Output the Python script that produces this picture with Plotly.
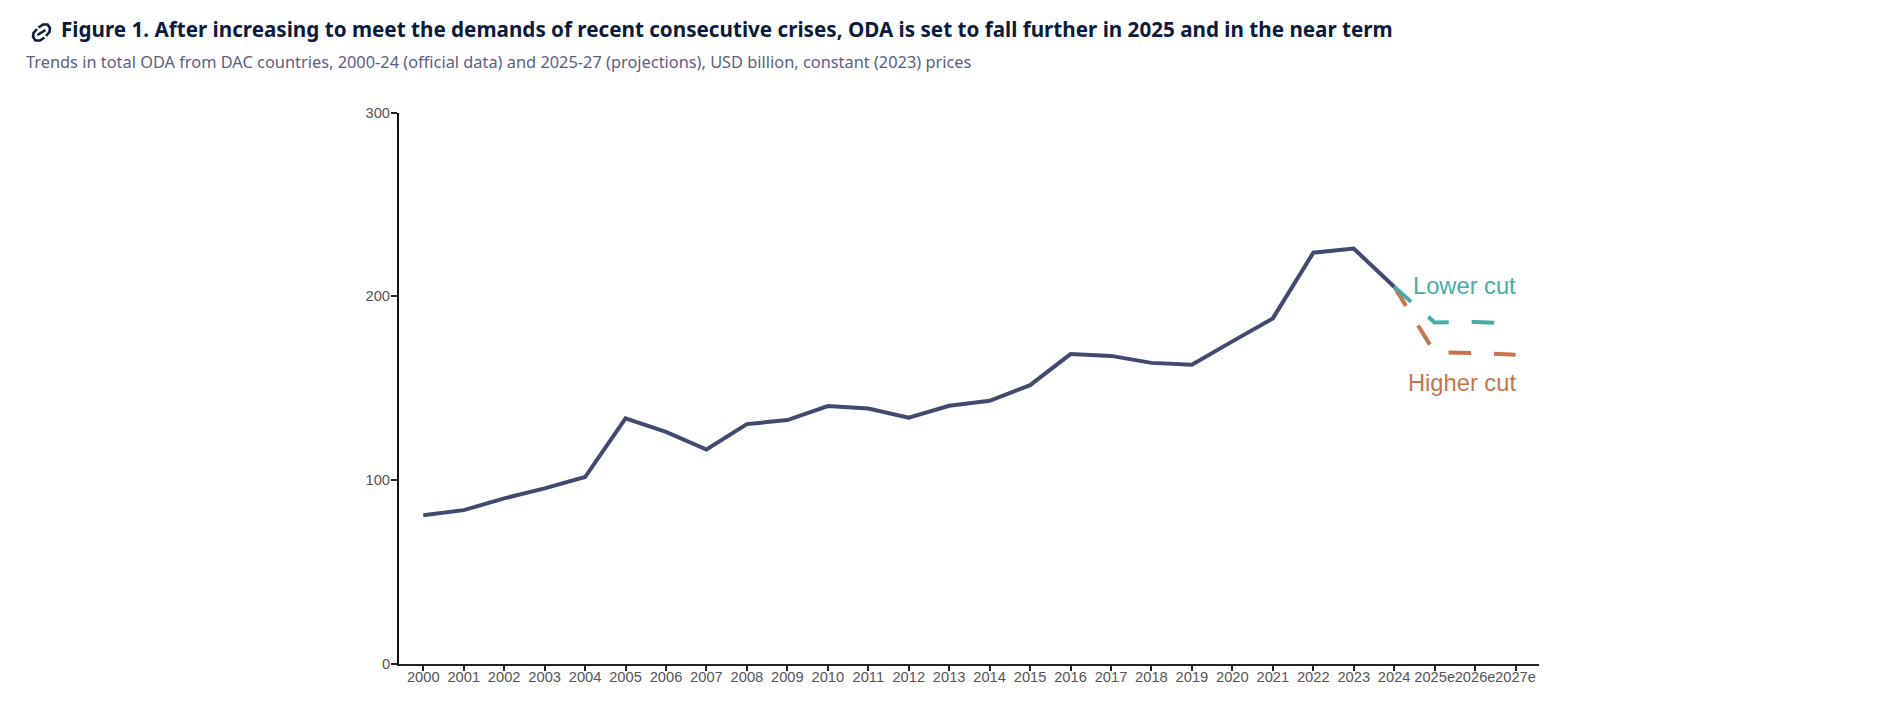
import plotly.graph_objects as go

W, H = 1903, 721
years = [str(y) for y in range(2000, 2025)] + ["2025e", "2026e", "2027e"]
oda = [80.9, 83.7, 90.1, 95.5, 101.7, 133.6, 126.3, 116.7, 130.5, 132.7, 140.3, 139.0, 134.0,
       140.5, 143.2, 151.7, 168.6, 167.6, 163.8, 162.8, 175.5, 188.0, 223.7, 226.0, 205.2]
proj_years = ["2024", "2025e", "2026e", "2027e"]
lower_cut = [205.2, 185.8, 186.0, 185.2]
higher_cut = [205.2, 169.5, 169.2, 168.2]
y_ticks = [0, 100, 200, 300]
NAVY, TEAL, ORANGE = "#434a6e", "#48aca4", "#c8744a"


def px(x):
    return x / W


def py(y):
    return 1 - y / H


fig = go.Figure()
fig.add_trace(go.Scatter(x=proj_years, y=higher_cut, mode="lines",
                         line=dict(color=ORANGE, width=4, dash="22.5px,23px"), hoverinfo="skip"))
fig.add_trace(go.Scatter(x=proj_years, y=lower_cut, mode="lines",
                         line=dict(color=TEAL, width=4, dash="22.5px,23px"), hoverinfo="skip"))
fig.add_trace(go.Scatter(x=years[:25], y=oda, mode="lines",
                         line=dict(color=NAVY, width=4), hoverinfo="skip"))


def note(x, y, text, size, color, family, anchor="left", bold=False):
    fig.add_annotation(xref="paper", yref="paper", x=px(x), y=py(y), text=f"<b>{text}</b>" if bold else text,
                       showarrow=False, xanchor=anchor, yanchor="middle",
                       font=dict(size=size, color=color, family=family), borderpad=0, borderwidth=0)


note(61, 29.5, "Figure 1. After increasing to meet the demands of recent consecutive crises, ODA is set to fall further in 2025 and in the near term",
     20.65, "#0c1a3e", "Noto Sans", bold=True)
note(26, 62, "Trends in total ODA from DAC countries, 2000-24 (official data) and 2025-27 (projections), USD billion, constant (2023) prices",
     16.36, "#5c6080", "Noto Sans")
note(1516, 285.5, "Lower cut", 23.7, TEAL, "Liberation Sans", anchor="right")
note(1516, 382.5, "Higher cut", 23.7, ORANGE, "Liberation Sans", anchor="right")


def link_path(pts):
    return "M " + " L ".join(f"{px(a):.5f},{py(b):.5f}" for a, b in pts)


for seg in ([(38.5, 27.5), (43, 24.5), (47.5, 24.5), (50, 28), (49.5, 32), (46, 36)],
            [(44.5, 37.5), (40, 40.5), (35.5, 40.5), (33, 37), (33.5, 33), (37, 29)],
            [(37.5, 35), (45.5, 30)]):
    fig.add_shape(type="path", xref="paper", yref="paper", path=link_path(seg),
                  line=dict(color="#0c1a3e", width=2.6))

fig.update_layout(
    width=W, height=H, autosize=False, margin=dict(l=0, r=0, t=0, b=0), showlegend=False,
    paper_bgcolor="white", plot_bgcolor="white", template="none",
    font=dict(family="Liberation Sans", size=14.7, color="#555555"),
    xaxis=dict(domain=[px(399), px(1539)], type="category", categoryorder="array", categoryarray=years,
               tickmode="array", tickvals=years, ticktext=years, range=[-0.6, 27.58], automargin=False,
               showgrid=False, zeroline=False, showline=True, linecolor="#222222", linewidth=2,
               ticks="outside", ticklen=5, tickwidth=1.5, tickcolor="#222222", tickangle=0,
               ticklabelstandoff=-7,
               tickfont=dict(size=14.7, color="#555555"), fixedrange=True),
    yaxis=dict(domain=[py(664), py(112.5)], range=[0, 300], tickmode="array", tickvals=y_ticks, automargin=False,
               showgrid=False, zeroline=False, showline=True, linecolor="#111111", linewidth=2,
               ticks="outside", ticklen=6, tickwidth=1.5, tickcolor="#222222", ticklabelstandoff=-2,
               tickfont=dict(size=14.7, color="#555555"), fixedrange=True),
)
fig.write_html("out.html", post_script="document.body.style.margin='0';", config={"displayModeBar": False})
